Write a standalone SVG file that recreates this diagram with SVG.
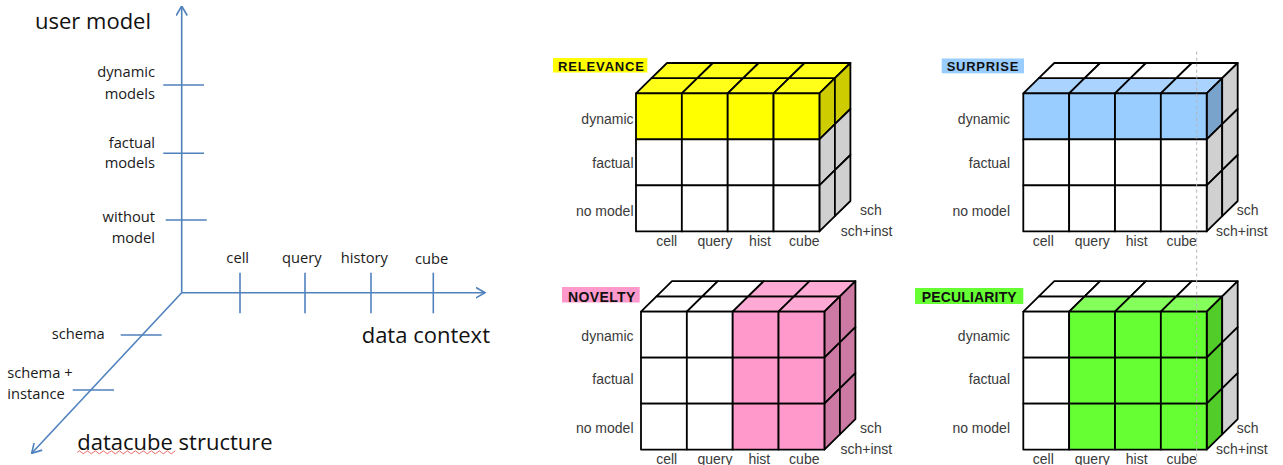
<svg xmlns="http://www.w3.org/2000/svg" xmlns:xlink="http://www.w3.org/1999/xlink" width="1283" height="465" viewBox="0 0 1283 465">
<style>
.ax{stroke:#4F81BD;stroke-width:1.6;fill:none}
.al{font-family:"Open Sans","Liberation Sans",sans-serif;font-size:14.7px;fill:#1a1a1a}
.at{font-family:"Open Sans","Liberation Sans",sans-serif;font-size:22px;fill:#111}
.cube{stroke:#000;stroke-width:1.8;stroke-linejoin:round}
.cl{font-family:"Liberation Sans",Arial,sans-serif;font-size:14px;fill:#3a3a3a;stroke:none}
.tl{font-family:"Liberation Sans",Arial,sans-serif;font-weight:bold;fill:#111}
.w{fill:#fff}.g{fill:#d0d0d0}
.y{fill:#ffff00}.yt{fill:#ffff1a}.yr{fill:#cccc00}
.b{fill:#99ccff}.bt{fill:#aad4ff}.br{fill:#7aa3cc}
.p{fill:#ff99cc}.pt{fill:#ffaad4}.pr{fill:#cc7aa3}
.n{fill:#66ff33}.nt{fill:#85ff5c}.nr{fill:#52cc29}
</style>
<defs>
<rect id="f" width="45.85" height="46"/>
<polygon id="t" points="0,0 45.85,0 61.35,-15.2 15.5,-15.2"/>
<polygon id="r" points="0,0 15.5,-15.2 15.5,30.8 0,46"/>
<marker id="arr" viewBox="0 0 10 12" refX="9.5" refY="6" markerWidth="10" markerHeight="12" markerUnits="userSpaceOnUse" orient="auto">
<path d="M0,0.5 L9.5,6 L0,11.5" fill="none" stroke="#4F81BD" stroke-width="1.6"/>
</marker>
</defs>
<rect width="1283" height="465" fill="#fff"/>

<g id="axes">
<line class="ax" x1="181.7" y1="292.7" x2="181.7" y2="6" marker-end="url(#arr)"/>
<line class="ax" x1="181.7" y1="292.7" x2="485" y2="292.7" marker-end="url(#arr)"/>
<line class="ax" x1="181.7" y1="292.7" x2="31.7" y2="453.3" marker-end="url(#arr)"/>
<line class="ax" x1="163.3" y1="85" x2="204" y2="85"/>
<line class="ax" x1="163.3" y1="153.3" x2="204" y2="153.3"/>
<line class="ax" x1="165.7" y1="220" x2="206.7" y2="220"/>
<line class="ax" x1="240" y1="272.7" x2="240" y2="313.3"/>
<line class="ax" x1="305" y1="272.7" x2="305" y2="313.3"/>
<line class="ax" x1="371" y1="272.7" x2="371" y2="313.3"/>
<line class="ax" x1="433.3" y1="272.7" x2="433.3" y2="313.3"/>
<line class="ax" x1="120.7" y1="335" x2="161.7" y2="335"/>
<line class="ax" x1="72.7" y1="390" x2="114" y2="390"/>
</g>

<g id="axis-labels">
<text class="at" x="35" y="29.3">user model</text>
<text class="at" x="361.7" y="342.7">data context</text>
<text class="at" x="77.3" y="449.5">datacube structure</text>
<polyline points="77.3,452.3 79.3,450.8 81.3,452.3 83.3,453.8 85.3,452.3 87.3,450.8 89.3,452.3 91.3,453.8 93.3,452.3 95.3,450.8 97.3,452.3 99.3,453.8 101.3,452.3 103.3,450.8 105.3,452.3 107.3,453.8 109.3,452.3 111.3,450.8 113.3,452.3 115.3,453.8 117.3,452.3 119.3,450.8 121.3,452.3 123.3,453.8 125.3,452.3 127.3,450.8 129.3,452.3 131.3,453.8 133.3,452.3 135.3,450.8 137.3,452.3 139.3,453.8 141.3,452.3 143.3,450.8 145.3,452.3 147.3,453.8 149.3,452.3 151.3,450.8 153.3,452.3 155.3,453.8 157.3,452.3 159.3,450.8 161.3,452.3 163.3,453.8 165.3,452.3 167.3,450.8 169.3,452.3 171.3,453.8 173.3,452.3 175.3,450.8" fill="none" stroke="#e04040" stroke-width="0.8"/>
<g class="al" text-anchor="end">
<text x="155" y="77.3">dynamic</text>
<text x="155" y="99.3">models</text>
<text x="155" y="148.3">factual</text>
<text x="155" y="168.3">models</text>
<text x="155" y="222.3">without</text>
<text x="155" y="242.7">model</text>
</g>
<g class="al" text-anchor="middle">
<text x="237.7" y="262.5">cell</text>
<text x="301.7" y="263">query</text>
<text x="364.3" y="263">history</text>
<text x="431.7" y="264">cube</text>
</g>
<text class="al" x="51.7" y="339">schema</text>
<text class="al" x="7.3" y="378.3">schema +</text>
<text class="al" x="7.3" y="399">instance</text>
</g>

<g id="cube-relevance">
<rect x="553" y="58" width="94.3" height="14.5" class="y"/>
<text class="tl" x="558" y="70.7" font-size="13" textLength="86" lengthAdjust="spacing">RELEVANCE</text>
<g class="cube" transform="translate(636,93.4)">
<use href="#t" x="0" y="0" class="yt"/><use href="#t" x="45.85" y="0" class="yt"/><use href="#t" x="91.7" y="0" class="yt"/><use href="#t" x="137.55" y="0" class="yt"/>
<use href="#t" x="15.5" y="-15.2" class="yt"/><use href="#t" x="61.35" y="-15.2" class="yt"/><use href="#t" x="107.2" y="-15.2" class="yt"/><use href="#t" x="153.05" y="-15.2" class="yt"/>
<use href="#r" x="183.4" y="0" class="yr"/><use href="#r" x="183.4" y="46" class="g"/><use href="#r" x="183.4" y="92" class="g"/>
<use href="#r" x="198.9" y="-15.2" class="yr"/><use href="#r" x="198.9" y="30.8" class="g"/><use href="#r" x="198.9" y="76.8" class="g"/>
<use href="#f" x="0" y="0" class="y"/><use href="#f" x="45.85" y="0" class="y"/><use href="#f" x="91.7" y="0" class="y"/><use href="#f" x="137.55" y="0" class="y"/>
<use href="#f" x="0" y="46" class="w"/><use href="#f" x="45.85" y="46" class="w"/><use href="#f" x="91.7" y="46" class="w"/><use href="#f" x="137.55" y="46" class="w"/>
<use href="#f" x="0" y="92" class="w"/><use href="#f" x="45.85" y="92" class="w"/><use href="#f" x="91.7" y="92" class="w"/><use href="#f" x="137.55" y="92" class="w"/>
</g>
<g class="cl" text-anchor="end"><text x="633.5" y="124">dynamic</text><text x="633.5" y="167.5">factual</text><text x="633.5" y="215.5">no model</text></g>
<g class="cl" text-anchor="middle"><text x="666.7" y="246">cell</text><text x="715" y="246">query</text><text x="760" y="246">hist</text><text x="804.3" y="246">cube</text></g>
<text class="cl" x="860" y="215">sch</text><text class="cl" x="840.7" y="235.7">sch+inst</text>
</g>

<g id="cube-surprise">
<rect x="941.7" y="58.5" width="82.3" height="14.8" class="b"/>
<text class="tl" x="946.7" y="70.7" font-size="13" textLength="71.6" lengthAdjust="spacing">SURPRISE</text>
<g class="cube" transform="translate(1023.3,93.4)">
<use href="#t" x="0" y="0" class="bt"/><use href="#t" x="45.85" y="0" class="bt"/><use href="#t" x="91.7" y="0" class="bt"/><use href="#t" x="137.55" y="0" class="bt"/>
<use href="#t" x="15.5" y="-15.2" class="w"/><use href="#t" x="61.35" y="-15.2" class="w"/><use href="#t" x="107.2" y="-15.2" class="w"/><use href="#t" x="153.05" y="-15.2" class="w"/>
<use href="#r" x="183.4" y="0" class="br"/><use href="#r" x="183.4" y="46" class="g"/><use href="#r" x="183.4" y="92" class="g"/>
<use href="#r" x="198.9" y="-15.2" class="g"/><use href="#r" x="198.9" y="30.8" class="g"/><use href="#r" x="198.9" y="76.8" class="g"/>
<use href="#f" x="0" y="0" class="b"/><use href="#f" x="45.85" y="0" class="b"/><use href="#f" x="91.7" y="0" class="b"/><use href="#f" x="137.55" y="0" class="b"/>
<use href="#f" x="0" y="46" class="w"/><use href="#f" x="45.85" y="46" class="w"/><use href="#f" x="91.7" y="46" class="w"/><use href="#f" x="137.55" y="46" class="w"/>
<use href="#f" x="0" y="92" class="w"/><use href="#f" x="45.85" y="92" class="w"/><use href="#f" x="91.7" y="92" class="w"/><use href="#f" x="137.55" y="92" class="w"/>
</g>
<g class="cl" text-anchor="end"><text x="1010" y="124">dynamic</text><text x="1010" y="167.5">factual</text><text x="1010" y="215.5">no model</text></g>
<g class="cl" text-anchor="middle"><text x="1043.3" y="246">cell</text><text x="1092.3" y="246">query</text><text x="1136.7" y="246">hist</text><text x="1181.7" y="246">cube</text></g>
<text class="cl" x="1236.7" y="215">sch</text><text class="cl" x="1216" y="235.7">sch+inst</text>
</g>

<g id="cube-novelty">
<rect x="562" y="287" width="77.7" height="15.5" class="p"/>
<text class="tl" x="568" y="301.8" font-size="14" textLength="67.3" lengthAdjust="spacing">NOVELTY</text>
<g class="cube" transform="translate(641,311.6)">
<use href="#t" x="0" y="0" class="w"/><use href="#t" x="45.85" y="0" class="w"/><use href="#t" x="91.7" y="0" class="pt"/><use href="#t" x="137.55" y="0" class="pt"/>
<use href="#t" x="15.5" y="-15.2" class="w"/><use href="#t" x="61.35" y="-15.2" class="w"/><use href="#t" x="107.2" y="-15.2" class="pt"/><use href="#t" x="153.05" y="-15.2" class="pt"/>
<use href="#r" x="183.4" y="0" class="pr"/><use href="#r" x="183.4" y="46" class="pr"/><use href="#r" x="183.4" y="92" class="pr"/>
<use href="#r" x="198.9" y="-15.2" class="pr"/><use href="#r" x="198.9" y="30.8" class="pr"/><use href="#r" x="198.9" y="76.8" class="pr"/>
<use href="#f" x="0" y="0" class="w"/><use href="#f" x="45.85" y="0" class="w"/><use href="#f" x="91.7" y="0" class="p"/><use href="#f" x="137.55" y="0" class="p"/>
<use href="#f" x="0" y="46" class="w"/><use href="#f" x="45.85" y="46" class="w"/><use href="#f" x="91.7" y="46" class="p"/><use href="#f" x="137.55" y="46" class="p"/>
<use href="#f" x="0" y="92" class="w"/><use href="#f" x="45.85" y="92" class="w"/><use href="#f" x="91.7" y="92" class="p"/><use href="#f" x="137.55" y="92" class="p"/>
</g>
<g class="cl" text-anchor="end"><text x="633.5" y="340.7">dynamic</text><text x="633.5" y="384">factual</text><text x="633.5" y="432.5">no model</text></g>
<g class="cl" text-anchor="middle"><text x="666.7" y="463.5">cell</text><text x="715" y="463.5">query</text><text x="759.3" y="463.5">hist</text><text x="804.3" y="463.5">cube</text></g>
<text class="cl" x="860" y="433.3">sch</text><text class="cl" x="840.5" y="454">sch+inst</text>
</g>

<g id="cube-peculiarity">
<rect x="915" y="288" width="108.3" height="16" class="n"/>
<text class="tl" x="921.7" y="301.5" font-size="14" textLength="95" lengthAdjust="spacing">PECULIARITY</text>
<g class="cube" transform="translate(1023.3,311.6)">
<use href="#t" x="0" y="0" class="w"/><use href="#t" x="45.85" y="0" class="nt"/><use href="#t" x="91.7" y="0" class="nt"/><use href="#t" x="137.55" y="0" class="nt"/>
<use href="#t" x="15.5" y="-15.2" class="w"/><use href="#t" x="61.35" y="-15.2" class="w"/><use href="#t" x="107.2" y="-15.2" class="w"/><use href="#t" x="153.05" y="-15.2" class="w"/>
<use href="#r" x="183.4" y="0" class="nr"/><use href="#r" x="183.4" y="46" class="nr"/><use href="#r" x="183.4" y="92" class="nr"/>
<use href="#r" x="198.9" y="-15.2" class="g"/><use href="#r" x="198.9" y="30.8" class="g"/><use href="#r" x="198.9" y="76.8" class="g"/>
<use href="#f" x="0" y="0" class="w"/><use href="#f" x="45.85" y="0" class="n"/><use href="#f" x="91.7" y="0" class="n"/><use href="#f" x="137.55" y="0" class="n"/>
<use href="#f" x="0" y="46" class="w"/><use href="#f" x="45.85" y="46" class="n"/><use href="#f" x="91.7" y="46" class="n"/><use href="#f" x="137.55" y="46" class="n"/>
<use href="#f" x="0" y="92" class="w"/><use href="#f" x="45.85" y="92" class="n"/><use href="#f" x="91.7" y="92" class="n"/><use href="#f" x="137.55" y="92" class="n"/>
</g>
<g class="cl" text-anchor="end"><text x="1010" y="340.7">dynamic</text><text x="1010" y="384">factual</text><text x="1010" y="432.5">no model</text></g>
<g class="cl" text-anchor="middle"><text x="1043.3" y="463.5">cell</text><text x="1092.3" y="463.5">query</text><text x="1136.7" y="463.5">hist</text><text x="1181.7" y="463.5">cube</text></g>
<text class="cl" x="1236.7" y="433.3">sch</text><text class="cl" x="1216" y="454">sch+inst</text>
</g>

<line id="guide" x1="1196.7" y1="51.7" x2="1196.7" y2="465" stroke="#b4b4b4" stroke-width="1" stroke-dasharray="3,3"/>
</svg>
